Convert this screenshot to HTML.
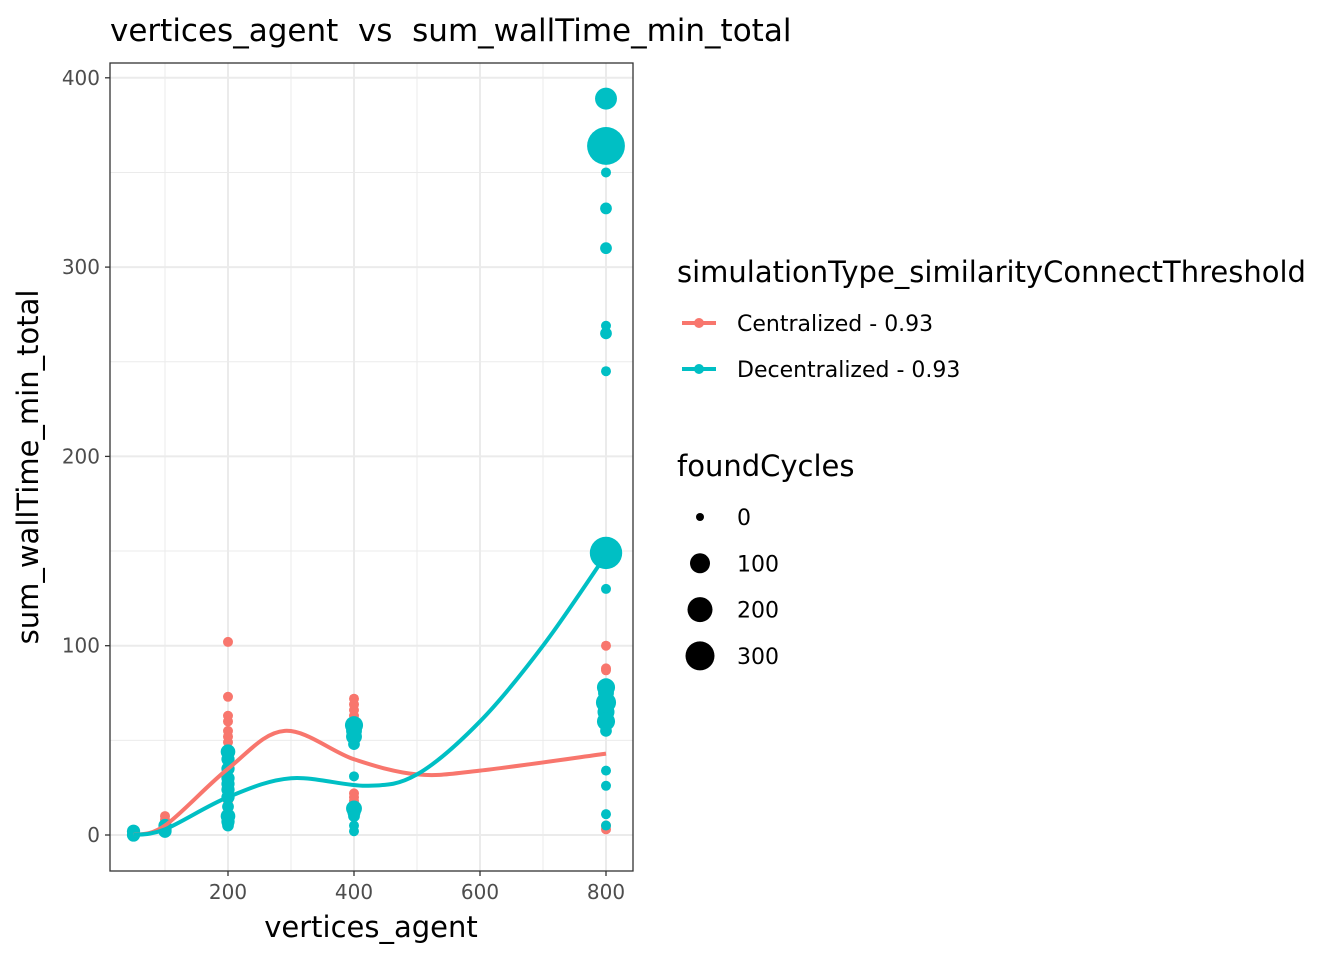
<!DOCTYPE html>
<html><head><meta charset="utf-8">
<style>
html,body{margin:0;padding:0;background:#fff;}
svg{display:block;font-family:"DejaVu Sans","Liberation Sans",sans-serif;}
</style></head>
<body>
<svg id="chart" width="1344" height="960" viewBox="0 0 1344 960" xmlns="http://www.w3.org/2000/svg">
<rect width="1344" height="960" fill="#fff"/>
<text x="110" y="41" font-size="31" fill="#000">vertices_agent&#160; vs&#160; sum_wallTime_min_total</text>
<g id="grid"></g>
<g id="lines"></g>
<g id="points"></g>
<rect x="110" y="63" width="523" height="808" fill="none" stroke="#333" stroke-width="1.3"/>
<g id="axes"></g>
<text x="371" y="937" font-size="29" text-anchor="middle">vertices_agent</text>
<text transform="translate(38,467) rotate(-90)" font-size="29" text-anchor="middle">sum_wallTime_min_total</text>
<g>
<text x="677" y="282" font-size="29">simulationType_similarityConnectThreshold</text>
<line x1="682" y1="323" x2="716" y2="323" stroke="#F8766D" stroke-width="4"/><circle cx="699" cy="323" r="5" fill="#F8766D"/>
<text x="737" y="331" font-size="22">Centralized - 0.93</text>
<line x1="682" y1="369" x2="716" y2="369" stroke="#00BFC4" stroke-width="4"/><circle cx="699" cy="369" r="5" fill="#00BFC4"/>
<text x="737" y="377" font-size="22">Decentralized - 0.93</text>
</g>
<g id="sizelegend">
<text x="677" y="476" font-size="29">foundCycles</text>
</g>
</svg>
<script>
const xTicks=[200,400,600,800];
const yTicks=[0,100,200,300,400];
const redSmoothX=[50,100,200,290,400,500,600,800];
const redSmoothY=[0,5,35,55,40,32,34,43];
const tealSmoothX=[50,100,200,300,420,500,600,700,800];
const tealSmoothY=[0,3,20,30,26,32,60,100,148];
const redX=[50,100,100,100,100,200,200,200,200,200,200,200,200,200,400,400,400,400,400,400,400,400,800,800,800,800,800,800,800];
const redY=[1,10,8,6,4,102,73,63,60,55,52,49,12,18,72,69,66,63,60,22,20,18,100,88,87,68,62,5,3];
const redC=[0,0,0,0,0,0,0,0,0,0,0,0,0,0,0,0,0,0,0,0,0,0,0,0,0,0,0,0,0];
const tealX=[50,50,100,100,100,200,200,200,200,200,200,200,200,200,200,200,400,400,400,400,400,400,400,400,400,400,800,800,800,800,800,800,800,800,800,800,800,800,800,800,800,800,800,800,800,800];
const tealY=[0,2,2,3,5,44,40,35,30,27,24,20,15,10,7,5,58,55,52,48,31,14,12,10,5,2,389,364,350,331,310,269,265,245,149,130,78,75,70,65,60,55,34,26,11,5];
const tealC=[20,20,20,20,20,30,20,20,20,20,20,20,10,30,20,10,60,40,40,10,0,40,20,10,0,0,100,350,0,10,10,0,10,0,250,0,60,40,80,50,60,10,0,0,0,0];
const sizeLegendVals=[0,100,200,300];
const NS="http://www.w3.org/2000/svg";
function sx(v){return 102+v*0.63;}
function sy(v){return 835-v*1.893;}
function rad(c){return Math.sqrt(25+0.95*c);}
function mk(tag,attrs,parent){const e=document.createElementNS(NS,tag);for(const k in attrs)e.setAttribute(k,attrs[k]);parent.appendChild(e);return e;}
const grid=document.getElementById('grid'),axes=document.getElementById('axes');
mk('rect',{x:110,y:63,width:523,height:808,fill:'#fff'},grid);
[100,300,500,700].forEach(v=>{const l=mk('line',{x1:sx(v),x2:sx(v),y1:63,y2:871,stroke:'#ebebeb','stroke-width':1},grid);});
[50,150,250,350].forEach(v=>{const l=mk('line',{x1:110,x2:633,y1:sy(v),y2:sy(v),stroke:'#ebebeb','stroke-width':1},grid);});
xTicks.forEach(v=>{const l=mk('line',{x1:sx(v),x2:sx(v),y1:63,y2:871,stroke:'#ebebeb','stroke-width':2},grid);
mk('line',{x1:sx(v),x2:sx(v),y1:871,y2:876,stroke:'#333','stroke-width':1.3},axes);
const t=mk('text',{x:sx(v),y:899,'font-size':20,'text-anchor':'middle',fill:'#4d4d4d'},axes);t.textContent=v;});
yTicks.forEach(v=>{const l=mk('line',{x1:110,x2:633,y1:sy(v),y2:sy(v),stroke:'#ebebeb','stroke-width':2},grid);
mk('line',{x1:105,x2:110,y1:sy(v),y2:sy(v),stroke:'#333','stroke-width':1.3},axes);
const t=mk('text',{x:100,y:sy(v)+7,'font-size':20,'text-anchor':'end',fill:'#4d4d4d'},axes);t.textContent=v;});
function smoothPath(xs,ys){const p=xs.map((x,i)=>[sx(x),sy(ys[i])]);let d='M'+p[0][0]+','+p[0][1];
for(let i=0;i<p.length-1;i++){const p0=p[i-1]||p[i],p1=p[i],p2=p[i+1],p3=p[i+2]||p2;
d+=' C'+(p1[0]+(p2[0]-p0[0])/6)+','+(p1[1]+(p2[1]-p0[1])/6)+' '+(p2[0]-(p3[0]-p1[0])/6)+','+(p2[1]-(p3[1]-p1[1])/6)+' '+p2[0]+','+p2[1];}return d;}
const pts=document.getElementById('points');
function drawPts(xs,ys,cs,col,name){xs.forEach((x,i)=>{const c=mk('circle',{cx:sx(x),cy:sy(ys[i]),r:rad(cs[i]),fill:col},pts);});}
drawPts(redX,redY,redC,'#F8766D','point-centralized');
drawPts(tealX,tealY,tealC,'#00BFC4','point-decentralized');
const lines=document.getElementById('lines');
const lr=mk('path',{d:smoothPath(redSmoothX,redSmoothY),fill:'none',stroke:'#F8766D','stroke-width':4},lines);


const lt=mk('path',{d:smoothPath(tealSmoothX,tealSmoothY),fill:'none',stroke:'#00BFC4','stroke-width':4},lines);


pts.parentNode.insertBefore(pts,lines);
const legR=[4,10,12.5,14.5];
const sl=document.getElementById('sizelegend');
sizeLegendVals.forEach((v,i)=>{const y=517+i*46.3;const c=mk('circle',{cx:700,cy:y,r:legR[i],fill:'#000'},sl);
const t=mk('text',{x:737,y:y+8,'font-size':22},sl);t.textContent=v;});
</script>
</body></html>
